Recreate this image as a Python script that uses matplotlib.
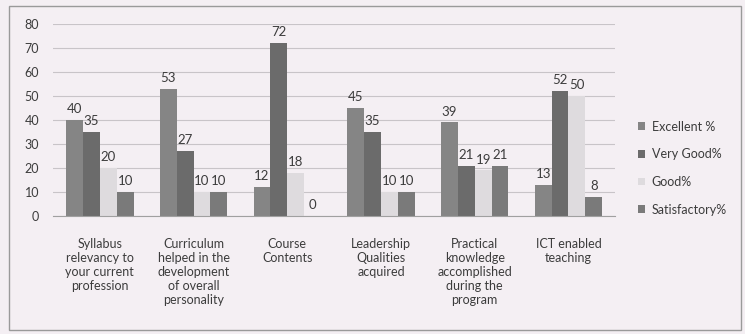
import numpy as np
import matplotlib.pyplot as plt
from matplotlib.patches import Rectangle

plt.rcParams['font.family'] = ['Lato', 'DejaVu Sans']

categories = [
    "Syllabus\nrelevancy to\nyour current\nprofession",
    "Curriculum\nhelped in the\ndevelopment\nof overall\npersonality",
    "Course\nContents",
    "Leadership\nQualities\nacquired",
    "Practical\nknowledge\naccomplished\nduring the\nprogram",
    "ICT enabled\nteaching",
]
excellent = [40, 53, 12, 45, 39, 13]
very_good = [35, 27, 72, 35, 21, 52]
good = [20, 10, 18, 10, 19, 50]
satisfactory = [10, 10, 0, 10, 21, 8]

series = [
    ("Excellent %", excellent, "#858585"),
    ("Very Good%", very_good, "#6b6b6b"),
    ("Good%", good, "#dedbde"),
    ("Satisfactory%", satisfactory, "#7a7a7a"),
]

bg = "#f4eff3"
text_col = "#3c3c3c"

fig = plt.figure(figsize=(7.45, 3.34), dpi=100, facecolor=bg)
fig.patches.append(Rectangle((0.012, 0.012), 0.982, 0.97, transform=fig.transFigure,
                             fill=False, edgecolor="#9a9a9a", linewidth=1.0))
ax = fig.add_axes([0.071, 0.353, 0.755, 0.575], facecolor=bg)

x = np.arange(len(categories))
width = 0.18
for i, (name, vals, col) in enumerate(series):
    pos = x + (i - 1.5) * width
    bars = ax.bar(pos, vals, width, color=col, label=name)
    for b, v in zip(bars, vals):
        ax.text(b.get_x() + b.get_width() / 2, v + 2, str(v), ha="center", va="bottom",
                fontsize=9.5, color=text_col)

ax.set_ylim(0, 80)
ax.set_xlim(-0.5, len(categories) - 0.5)
ax.set_yticks(range(0, 81, 10))
ax.yaxis.grid(True, color="#c8c4c8", linewidth=0.8)
ax.set_axisbelow(True)
for s in ["top", "right", "left"]:
    ax.spines[s].set_visible(False)
ax.spines["bottom"].set_color("#a0a0a0")
ax.tick_params(axis="y", length=0, labelsize=9, labelcolor=text_col, pad=10)
ax.set_xticks(x)
ax.set_xticklabels(categories, fontsize=9, color=text_col, linespacing=1.2, va="top")
ax.tick_params(axis="x", length=0, pad=16)

ax.legend(loc="center left", bbox_to_anchor=(1.02, 0.25), frameon=False, fontsize=9,
          handlelength=0.6, handleheight=0.6, handletextpad=0.5, labelspacing=1.25,
          labelcolor=text_col)

fig.savefig("out.png", dpi=100, facecolor=bg)
